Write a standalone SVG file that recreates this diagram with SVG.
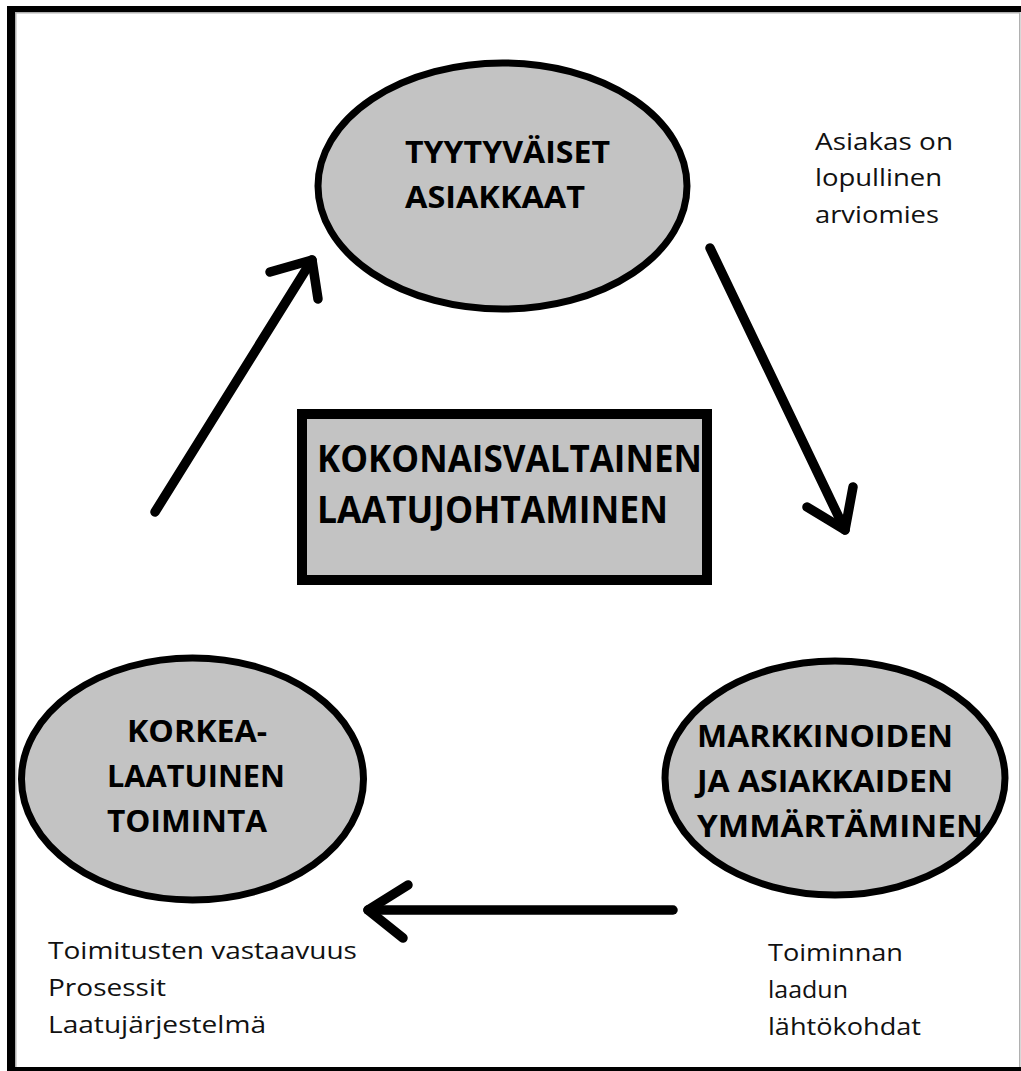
<svg xmlns="http://www.w3.org/2000/svg" width="1021" height="1071" viewBox="0 0 1021 1071">
<style>
.node{fill:#c3c3c3;stroke:#000;stroke-width:7}
.box{fill:#c3c3c3;stroke:#000;stroke-width:10}
.lbl{font-family:"Open Sans","Noto Sans","Liberation Sans",sans-serif;font-weight:700;font-size:31px;fill:#000}
.big{font-size:37px}
.note{font-family:"Open Sans","Noto Sans","Liberation Sans",sans-serif;font-size:23px;fill:#111}
.conn{fill:none;stroke:#000;stroke-width:9.5;stroke-linecap:round;stroke-linejoin:round}
</style>
<rect x="0" y="0" width="1021" height="1071" fill="#fff"/>
<g id="frame">
<rect x="7" y="6" width="1014" height="6" fill="#000"/>
<rect x="7" y="6" width="8" height="1065" fill="#000"/>
<rect x="7" y="1067" width="1014" height="4" fill="#000"/>
<rect x="1019" y="12" width="1.5" height="1055" fill="#b0b0b0"/>
<rect x="15" y="12" width="1.5" height="1055" fill="#b0b0b0"/>
<rect x="15" y="12" width="1004" height="1.5" fill="#b0b0b0"/>
</g>
<g id="connectors">
<polyline class="conn" points="155,512 312,260"/>
<polyline class="conn" points="270,272 312,260 318,299"/>
<polyline class="conn" points="710,248 845,530"/>
<polyline class="conn" points="807,507 845,530 853,487"/>
<polyline class="conn" points="673,910 368,910"/>
<polyline class="conn" points="408,885 368,910 403,938"/>
</g>
<g id="node-tyytyvaiset">
<ellipse class="node" cx="502.5" cy="186" rx="184.5" ry="123"/>
<text class="lbl" x="405" y="163" textLength="205" lengthAdjust="spacingAndGlyphs">TYYTYVÄISET</text>
<text class="lbl" x="405" y="208" textLength="180" lengthAdjust="spacingAndGlyphs">ASIAKKAAT</text>
</g>
<g id="node-kokonaisvaltainen">
<rect class="box" x="302" y="414" width="405" height="166"/>
<text class="lbl big" x="317" y="472" textLength="385" lengthAdjust="spacingAndGlyphs">KOKONAISVALTAINEN</text>
<text class="lbl big" x="317" y="523" textLength="351" lengthAdjust="spacingAndGlyphs">LAATUJOHTAMINEN</text>
</g>
<g id="node-markkinoiden">
<ellipse class="node" cx="835" cy="778" rx="170" ry="117"/>
<text class="lbl" x="697" y="747" textLength="256" lengthAdjust="spacingAndGlyphs">MARKKINOIDEN</text>
<text class="lbl" x="697" y="792" textLength="256" lengthAdjust="spacingAndGlyphs">JA ASIAKKAIDEN</text>
<text class="lbl" x="697" y="837" textLength="286" lengthAdjust="spacingAndGlyphs">YMMÄRTÄMINEN</text>
</g>
<g id="node-korkealaatuinen">
<ellipse class="node" cx="192.5" cy="779" rx="171" ry="121"/>
<text class="lbl" x="127" y="742" textLength="140" lengthAdjust="spacingAndGlyphs">KORKEA-</text>
<text class="lbl" x="107" y="787" textLength="178" lengthAdjust="spacingAndGlyphs">LAATUINEN</text>
<text class="lbl" x="107" y="832" textLength="160" lengthAdjust="spacingAndGlyphs">TOIMINTA</text>
</g>
<g id="note-asiakas">
<text class="note" x="815" y="150" textLength="138" lengthAdjust="spacingAndGlyphs">Asiakas on</text>
<text class="note" x="815" y="186" textLength="127" lengthAdjust="spacingAndGlyphs">lopullinen</text>
<text class="note" x="815" y="223" textLength="124" lengthAdjust="spacingAndGlyphs">arviomies</text>
</g>
<g id="note-toimitusten">
<text class="note" x="48" y="959" textLength="309" lengthAdjust="spacingAndGlyphs">Toimitusten vastaavuus</text>
<text class="note" x="48" y="996" textLength="118" lengthAdjust="spacingAndGlyphs">Prosessit</text>
<text class="note" x="48" y="1033" textLength="218" lengthAdjust="spacingAndGlyphs">Laatujärjestelmä</text>
</g>
<g id="note-toiminnan">
<text class="note" x="768" y="961" textLength="135" lengthAdjust="spacingAndGlyphs">Toiminnan</text>
<text class="note" x="768" y="998" textLength="80" lengthAdjust="spacingAndGlyphs">laadun</text>
<text class="note" x="768" y="1035" textLength="153" lengthAdjust="spacingAndGlyphs">lähtökohdat</text>
</g>
</svg>
